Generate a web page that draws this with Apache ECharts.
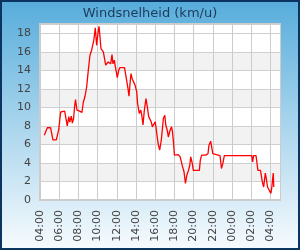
<!DOCTYPE html>
<html>
<head>
<meta charset="utf-8">
<script src="https://cdn.jsdelivr.net/npm/echarts@6/dist/echarts.min.js"></script>
<style>
  html, body { margin: 0; padding: 0; }
  #chart { width: 300px; height: 250px; }
</style>
</head>
<body>
<div id="chart"></div>
<script>
// hours since 04:00 and wind speed (km/u)
const hours = [
  0.45, 0.76, 1.1, 1.35, 1.7, 1.95, 2.15, 2.57, 2.75, 2.84, 3.0, 3.1, 3.26, 3.37, 3.5, 3.6, 3.7, 3.85,
  4.13, 4.3, 4.37, 4.5, 4.69, 4.86, 5.03, 5.2, 5.38, 5.48, 5.6, 5.76, 5.9, 6.04, 6.15, 6.25, 6.35, 6.5,
  6.6, 6.74, 6.84, 6.94, 7.1, 7.2, 7.36, 7.5, 7.6, 7.74, 7.85, 7.98, 8.05, 8.2, 8.33, 8.8, 8.93, 9.06,
  9.17, 9.27, 9.38, 9.48, 9.6, 9.76, 9.9, 10.07, 10.17, 10.34, 10.5, 10.6, 10.73, 10.87, 11.04, 11.18,
  11.32, 11.46, 11.6, 11.7, 11.9, 12.0, 12.1, 12.3, 12.47, 12.64, 12.85, 13.0, 13.1, 13.26, 13.37, 13.54,
  13.7, 13.8, 13.9, 14.0, 14.2, 14.4, 14.6, 14.85, 15.0, 15.15, 15.3, 15.47, 15.6, 15.7, 15.86, 15.97,
  16.6, 16.7, 16.84, 17.26, 17.36, 17.5, 17.6, 17.78, 17.9, 18.0, 18.15, 18.75, 18.9, 19.05, 19.2, 22.05,
  22.15, 22.25, 22.5, 22.7, 22.97, 23.15, 23.3, 23.47, 23.6, 23.7, 23.8, 24.05, 24.15, 24.24, 24.3, 24.35
];
const speeds = [
  7.0, 7.8, 7.8, 6.5, 6.5, 7.6, 9.5, 9.6, 9.5, 8.0, 9.0, 8.4, 9.05, 8.3, 8.8, 10.05, 10.85, 9.7,
  9.6, 9.7, 9.45, 10.5, 11.2, 12.2, 14.0, 15.6, 16.2, 16.35, 17.2, 18.6, 16.7, 18.0, 18.75, 17.6, 16.35, 16.4,
  16.0, 15.8, 14.55, 14.4, 14.9, 15.1, 14.7, 15.7, 14.7, 15.1, 14.4, 14.55, 13.2, 14.0, 14.3, 14.3, 13.5, 13.3,
  12.0, 11.2, 12.6, 13.65, 13.1, 12.9, 12.4, 11.7, 10.4, 9.35, 9.7, 9.15, 8.1, 9.7, 10.95, 10.05,
  9.0, 9.15, 8.4, 7.9, 7.9, 8.45, 7.7, 6.1, 5.4, 6.5, 8.8, 9.15, 8.1, 7.5, 6.8, 7.5,
  7.9, 7.35, 6.3, 4.85, 4.9, 4.9, 4.65, 3.6, 3.05, 1.8, 2.7, 3.2, 3.75, 4.65, 3.95, 3.2,
  3.2, 4.3, 4.85, 4.85, 4.95, 5.0, 5.9, 6.35, 6.3, 5.0, 4.8, 4.8, 3.4, 3.95, 4.8, 4.8,
  4.1, 4.8, 4.8, 3.2, 3.2, 2.0, 1.4, 2.9, 2.15, 1.4, 1.25, 0.7, 1.4, 2.35, 2.9, 1.4
];
const startHour = 4;
const titleText = 'Windsnelheid (km/u)';

const chart = echarts.init(document.getElementById('chart'), null, { renderer: 'canvas' });

const labelFont = { fontFamily: 'DejaVu Sans', fontSize: 11, color: '#444' };

chart.setOption({
  animation: false,
  backgroundColor: new echarts.graphic.LinearGradient(0, 0, 0, 1, [
    { offset: 0, color: '#56acdb' },
    { offset: 0.5, color: '#a9d5ed' },
    { offset: 1, color: '#f7fbfe' }
  ]),
  title: {
    text: titleText,
    left: 'center',
    top: 2,
    textStyle: { fontFamily: 'DejaVu Sans', fontSize: 13, fontWeight: 'normal', color: '#1d3b5a' }
  },
  graphic: [{
    type: 'rect',
    silent: true,
    z: 100,
    shape: { x: 1, y: 1, width: 298, height: 248 },
    style: { fill: 'none', stroke: '#0b3560', lineWidth: 2 }
  }],
  grid: {
    left: 40, right: 20, top: 24, bottom: 50,
    show: true, backgroundColor: '#fff', borderWidth: 2, borderColor: '#cccccc'
  },
  xAxis: {
    type: 'value',
    min: 0,
    max: 25,
    interval: 2,
    axisLine: { show: true, lineStyle: { color: '#cccccc', width: 2 } },
    axisTick: { show: false },
    axisLabel: {
      ...labelFont,
      rotate: 90,
      margin: 10,
      showMaxLabel: false,
      formatter: (v) => String((startHour + v) % 24).padStart(2, '0') + ':00'
    },
    splitLine: { show: true, lineStyle: { color: '#cccccc', width: 1 } }
  },
  yAxis: {
    type: 'value',
    min: 0,
    max: 19,
    interval: 2,
    axisLine: { show: true, lineStyle: { color: '#cccccc', width: 2 } },
    axisTick: { show: false },
    axisLabel: { ...labelFont, margin: 9, showMaxLabel: false },
    splitLine: { show: true, lineStyle: { color: '#d0d0d0', width: 1 } },
    splitArea: {
      show: true,
      areaStyle: { color: ['#ffffff', '#f2f2f2', '#ffffff', '#f2f2f2', '#ffffff', '#f2f2f2', '#ffffff', '#f2f2f2', '#ffffff', '#ffffff'] }
    }
  },
  series: [{
    type: 'line',
    data: hours.map((h, i) => [h, speeds[i]]),
    showSymbol: false,
    lineStyle: { color: '#ff0000', width: 1.3 },
    itemStyle: { color: '#ff0000' }
  }]
});
</script>
</body>
</html>
